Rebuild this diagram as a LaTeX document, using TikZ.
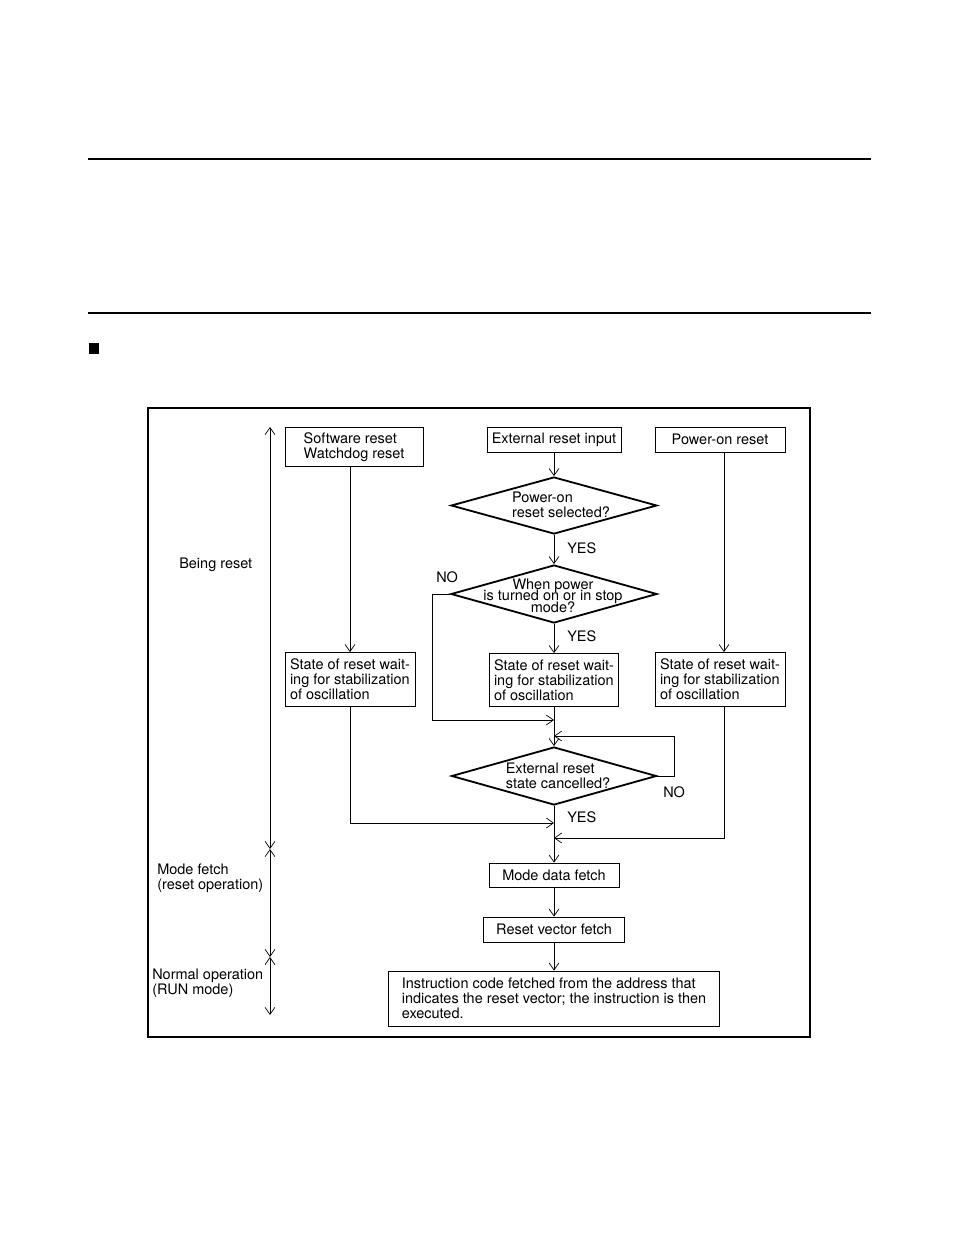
\documentclass[tikz,border=0pt]{standalone}
\usepackage{fontspec}
\setmainfont{TeX Gyre Heros}
\usetikzlibrary{arrows.meta,shapes.geometric}

\newcommand{\px}{0.025cm}
\newcommand{\tightlines}{\fontsize{10.3}{8.2}\selectfont\lineskiplimit=-20pt\relax}

\tikzset{
  size/.style 2 args={minimum width=#1*\px, minimum height=#2*\px},
  box/.style={draw, line width=0.6pt, inner sep=0pt, align=left},
  decision/.style={draw, diamond, line width=1.3pt, inner sep=0pt},
  flow/.style={line width=0.5pt, -{Straight Barb[length=5pt,width=7pt]}},
  span/.style={line width=0.5pt,
    {Straight Barb[length=5pt,width=7pt]}-{Straight Barb[length=5pt,width=7pt]}},
  txt/.style={inner sep=0pt, align=left, anchor=west},
}

\begin{document}
\begin{tikzpicture}[x=\px, y=-\px, font=\fontsize{10.3}{10.7}\selectfont]
    \useasboundingbox (0,0) rectangle (954,1235);

    % page rules and frame
    \draw[line width=0.9pt] (88,159) -- (871,159);
    \draw[line width=0.9pt] (88,313) -- (871,313);
    \fill (89,343) rectangle (99,354);
    \draw[line width=0.9pt] (148,408) rectangle (810,1037);

    % sources
    \node[box, size={138}{39}] (swreset) at (354,447) {Software reset\\Watchdog reset};
    \node[box, size={134}{25}] (extreset) at (554,439.5) {External reset input};
    \node[box, size={130}{25}] (poreset) at (720,439.5) {Power-on reset};

    % decisions
    \node[decision, size={206}{57}] (pwrsel) at (554,505.5) {};
    \node[inner sep=0pt, align=left] (pwrseltxt) at (561,505) {Power-on\\reset selected?};
    \node[decision, size={206}{58}] (whenpwr) at (554,594) {};
    \node[inner sep=0pt, align=center, font=\tightlines] (whenpwrtxt)
      at (553,595.5) {When power\\is turned on or in stop\\mode?};

    % waiting states
    \node[box, size={130}{54}] (state1) at (350,679.5) {State of reset wait-\\ing for stabilization\\of oscillation};
    \node[box, size={129}{53}] (state2) at (554,680) {State of reset wait-\\ing for stabilization\\of oscillation};
    \node[box, size={130}{54}] (state3) at (720,679.5) {State of reset wait-\\ing for stabilization\\of oscillation};

    \node[decision, size={205}{58}] (cancel) at (554,776) {};
    \node[inner sep=0pt, align=left] (canceltxt) at (558,775.5) {External reset\\state cancelled?};

    % fetch and run
    \node[box, size={130}{24}] (modedata) at (554,875) {Mode data fetch};
    \node[box, size={141}{25}] (vector) at (554,929.5) {Reset vector fetch};
    \node[box, size={331}{55}] (instr) at (554,998.5) {Instruction code fetched from the address that\\indicates the reset vector; the instruction is then\\executed.};

    % branch labels
    \node[txt] (yes1) at (567,548) {YES};
    \node[txt] (yes2) at (567,636) {YES};
    \node[txt] (no1) at (436,577) {NO};
    \node[txt] (no2) at (663,792) {NO};
    \node[txt] (yes3) at (567,817) {YES};

    % phases
    \node[txt] (being) at (179,564.5) {Being reset};
    \node[txt] (modefetch) at (157,878) {Mode fetch\\(reset operation)};
    \node[txt] (normal) at (152,983.5) {Normal operation\\(RUN mode)};

    \coordinate (t0) at (270,427);
    \coordinate (t1) at (270,849);
    \coordinate (t2) at (270,957);
    \coordinate (t3) at (270,1015);
    \draw[span] (t0) -- (t1);
    \draw[span] (t1) -- (t2);
    \draw[span] (t2) -- (t3);

    % joins on the main line
    \coordinate (jno) at (554,720);
    \coordinate (jloop) at (554,736);
    \coordinate (jleft) at (554,823);
    \coordinate (jright) at (554,838);

    % connectors
    \draw[flow] (swreset.south -| state1) -- (state1);
    \draw[flow] ([xshift=4*\px]poreset.south) -- ([xshift=4*\px]state3.north);
    \draw[flow] (extreset) -- (pwrsel);
    \draw[flow] (pwrsel) -- (whenpwr);
    \draw[flow] (whenpwr) -- (state2);
    \draw[flow] (state2) -- (cancel);
    \draw[flow] (cancel) -- (modedata);
    \draw[flow] (modedata) -- (vector);
    \draw[flow] (vector) -- (instr);
    \draw[flow] (whenpwr.west) -- ++(-18,0) |- (jno);
    \draw[flow] (cancel.east) -- ++(17,0) |- (jloop);
    \draw[flow] (state1) |- (jleft);
    \draw[flow] ([xshift=4*\px]state3.south) |- (jright);
\end{tikzpicture}
\end{document}
